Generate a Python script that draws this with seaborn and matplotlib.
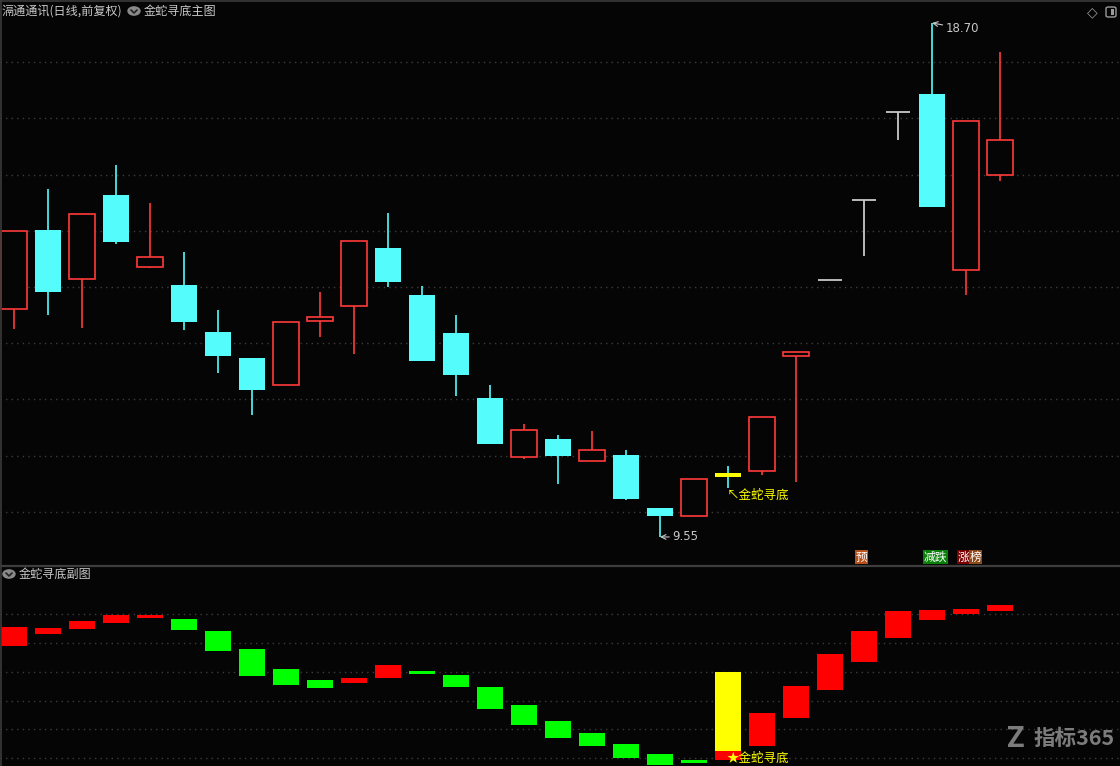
import matplotlib
matplotlib.use("Agg")
import matplotlib.pyplot as plt
import seaborn as sns
import numpy as np
from matplotlib.patches import Circle, FancyBboxPatch

# ---------------- data ----------------
opens  = [13.60, 15.01, 14.15, 15.63, 14.36, 14.03, 13.19, 12.73, 12.25, 13.40,
          13.67, 14.69, 13.85, 13.18, 12.03, 10.97, 11.30, 10.90, 11.01, 10.06,
          9.93, 10.68, 10.73, 12.78, 14.13, 15.55, 17.11, 17.44, 14.31, 16.00]
closes = [14.99, 13.91, 15.30, 14.80, 14.54, 13.38, 12.77, 12.17, 13.37, 13.47,
          14.82, 14.09, 12.68, 12.44, 11.20, 11.46, 11.00, 11.10, 10.23, 9.93,
          10.58, 10.61, 11.69, 12.85, 14.13, 15.55, 17.11, 15.42, 16.95, 16.61]
highs  = [14.99, 15.74, 15.30, 16.17, 15.49, 14.62, 13.59, 12.73, 13.37, 13.91,
          14.82, 15.31, 14.01, 13.50, 12.26, 11.56, 11.37, 11.44, 11.10, 10.06,
          10.58, 10.82, 11.69, 12.85, 14.13, 15.55, 17.11, 18.70, 16.95, 18.18]
lows   = [13.25, 13.50, 13.27, 14.77, 14.34, 13.23, 12.47, 11.72, 12.25, 13.11,
          12.81, 14.00, 12.68, 12.06, 11.20, 10.93, 10.50, 10.90, 10.20, 9.55,
          9.93, 10.43, 10.65, 10.52, 14.13, 14.56, 16.62, 15.42, 13.86, 15.88]
signal_idx = 21
price_ticks = [10, 11, 12, 13, 14, 15, 16, 17, 18]

# sub chart: floating bars (low / high of each bar) and colour code
sub_low  = [3.90, 4.32, 4.49, 4.70, 4.87, 4.45, 3.73, 2.86, 2.54, 2.44,
            2.61, 2.79, 2.93, 2.48, 1.71, 1.16, 0.70, 0.43, 0.01, -0.23,
            -0.16, -0.06, 0.43, 1.40, 2.37, 3.34, 4.18, 4.80, 5.01, 5.11]
sub_high = [4.56, 4.52, 4.77, 4.98, 4.98, 4.84, 4.42, 3.80, 3.10, 2.72,
            2.79, 3.23, 3.02, 2.89, 2.48, 1.85, 1.30, 0.88, 0.50, 0.15,
            -0.06, 0.25, 1.57, 2.51, 3.62, 4.42, 5.11, 5.15, 5.18, 5.32]
sub_dir  = ["R", "R", "R", "R", "R", "G", "G", "G", "G", "G",
            "R", "R", "G", "G", "G", "G", "G", "G", "G", "G",
            "G", "R", "R", "R", "R", "R", "R", "R", "R", "R"]
sub_signal = [0.25, 3.00]
sub_ticks = [0, 1, 2, 3, 4, 5]

hi_label = "18.70"
lo_label = "9.55"
title_main = "滆通通讯(日线,前复权)"
title_ind = "金蛇寻底主图"
title_sub = "金蛇寻底副图"
signal_text = "金蛇寻底"

# ---------------- style ----------------
sns.set_theme(style="dark")
plt.rcParams["font.family"] = ["Noto Sans CJK SC", "DejaVu Sans"]
BG = "#050505"
RED = "#FF3A3A"
CYAN = "#54FCFC"
GREY = "#C8C8C8"
GRID = "#3c3c3c"
W, H = 1120, 766

fig = plt.figure(figsize=(11.2, 7.66), dpi=100, facecolor=BG)
ax = fig.add_axes([0, (H - 565) / H, 1, 565 / H])
ax2 = fig.add_axes([0, 0, 1, 199 / H])
xl = (-14 / 34, (W - 14) / 34)
for a in (ax, ax2):
    a.set_facecolor(BG)
    a.set_xlim(*xl)
    a.set_axis_off()

ax.set_ylim(9.051, 19.109)
ax2.set_ylim(-0.267, 6.64)

for p in price_ticks:
    ax.axhline(p, color=GRID, lw=1.0, ls=(0, (1, 3)), zorder=0)
for v in sub_ticks:
    ax2.axhline(v, color=GRID, lw=1.0, ls=(0, (1, 3)), zorder=0)

# ---------------- candles ----------------
bw = 0.74
for i, (o, c, h, l) in enumerate(zip(opens, closes, highs, lows)):
    if i == signal_idx:
        ax.vlines(i, l, h, color=CYAN, lw=1.2, zorder=2)
        ax.bar(i, o - c, bottom=c, width=bw, color="#FFFF00", lw=0, zorder=3)
    elif c > o:
        if h > c:
            ax.vlines(i, c, h, color=RED, lw=1.2, zorder=2)
        if l < o:
            ax.vlines(i, l, o, color=RED, lw=1.2, zorder=2)
        ax.bar(i, c - o, bottom=o, width=bw, facecolor=BG, edgecolor=RED,
               lw=1.2, zorder=3)
    elif c < o:
        ax.vlines(i, l, h, color=CYAN, lw=1.2, zorder=2)
        ax.bar(i, o - c, bottom=c, width=bw, color=CYAN, lw=0, zorder=3)
    else:
        ax.hlines(o, i - 0.36, i + 0.36, color=GREY, lw=1.3, zorder=3)
        if l < o:
            ax.vlines(i, l, h, color=GREY, lw=1.3, zorder=2)

ix_hi = int(np.argmax(highs))
ix_lo = int(np.argmin(lows))
ax.annotate(hi_label, xy=(ix_hi, highs[ix_hi]), xytext=(10, -4),
            textcoords="offset points", color=GREY, fontsize=8.5,
            family=["DejaVu Sans"], ha="left", va="center",
            arrowprops=dict(arrowstyle="->", color=GREY, lw=0.8,
                            shrinkA=0, shrinkB=0))
ax.annotate(lo_label, xy=(ix_lo, lows[ix_lo]), xytext=(9, 0),
            textcoords="offset points", color=GREY, fontsize=8.5,
            family=["DejaVu Sans"], ha="left", va="center",
            arrowprops=dict(arrowstyle="->", color=GREY, lw=0.8,
                            shrinkA=0, shrinkB=0))
ax.annotate("↖" + signal_text, xy=(signal_idx, lows[signal_idx]),
            xytext=(-1, -1), textcoords="offset points", color="#FFFF00",
            fontsize=9, ha="left", va="top",
            family=["Noto Sans CJK SC", "DejaVu Sans"])

# badges
badge_y = 9.19
ax.text(25 - 0.25, badge_y, "预", color="white", fontsize=8.5, ha="left",
        va="center", bbox=dict(boxstyle="square,pad=0.05", fc="#B8501A", ec="none"))
ax.text(27 - 0.25, badge_y, "减跌", color="white", fontsize=8.5, ha="left",
        va="center", bbox=dict(boxstyle="square,pad=0.05", fc="#0A7F0A", ec="none"))
ax.text(28 - 0.25, badge_y, "涨", color="white", fontsize=8.5, ha="left",
        va="center", bbox=dict(boxstyle="square,pad=0.05", fc="#7A0000", ec="none"))
ax.text(28 - 0.25 + 12.5 / 34, badge_y, "榜", color="white", fontsize=8.5,
        ha="left", va="center",
        bbox=dict(boxstyle="square,pad=0.05", fc="#8B4A1A", ec="none"))

# ---------------- sub chart ----------------
cmap = {"R": "#FF0000", "G": "#00FF00"}
xs = np.arange(len(sub_low))
ax2.bar(xs, np.array(sub_high) - np.array(sub_low), bottom=sub_low, width=0.78,
        color=[cmap[d] for d in sub_dir], lw=0, zorder=3)
ax2.bar(signal_idx, sub_signal[1] - sub_signal[0], bottom=sub_signal[0],
        width=0.78, color="#FFFF00", lw=0, zorder=3)
ax2.text(signal_idx - 0.05, 0.0, "★" + signal_text, color="#FFFF00", fontsize=9,
         ha="left", va="center", zorder=4,
         family=["Noto Sans CJK SC", "DejaVu Sans"])

# ---------------- frame / titles ----------------
def fx(px):
    return px / W

def fy(py):
    return 1 - py / H

fig.add_artist(plt.Line2D([0, 1], [fy(565.5), fy(565.5)], color="#3e3e3e", lw=1.6))
fig.add_artist(plt.Line2D([fx(0.8), fx(0.8)], [0, 1], color="#3a3a3a", lw=1.2))
fig.add_artist(plt.Line2D([0, 1], [fy(0.6), fy(0.6)], color="#3a3a3a", lw=1.2))

fig.text(fx(2), fy(11), title_main, color=GREY, fontsize=8.7, ha="left", va="center")
fig.text(fx(144), fy(11), title_ind, color=GREY, fontsize=8.7, ha="left", va="center")
fig.text(fx(19), fy(574), title_sub, color=GREY, fontsize=8.7, ha="left", va="center")


def chevron(cx, cy):
    fig.add_artist(Circle((fx(cx), fy(cy)), 6 / W, transform=fig.transFigure,
                          color="#8a8a8a", zorder=5))
    fig.add_artist(plt.Line2D([fx(cx - 3), fx(cx), fx(cx + 3)],
                              [fy(cy - 1), fy(cy + 2), fy(cy - 1)],
                              color="#222222", lw=1.2, zorder=6))


chevron(134, 11)
chevron(9, 574)

fig.text(fx(1092), fy(12), "◇", color="#9a9a9a", fontsize=10, ha="center",
         va="center", family=["DejaVu Sans"])
fig.add_artist(FancyBboxPatch((fx(1106), fy(17)), 10 / W, 10 / H,
                              boxstyle="round,pad=0,rounding_size=0.002",
                              transform=fig.transFigure, fc="none",
                              ec="#9a9a9a", lw=1.0))
fig.add_artist(FancyBboxPatch((fx(1111), fy(15)), 3 / W, 6 / H,
                              boxstyle="square,pad=0", transform=fig.transFigure,
                              fc="#9a9a9a", ec="none"))

# watermark
fig.text(fx(1007), fy(739), "Z", color="#7c7c7c", fontsize=21, fontweight="bold",
         ha="left", va="center", family=["Roboto", "DejaVu Sans"])
fig.text(fx(1033), fy(738), "指标365", color="#7c7c7c", fontsize=15.5,
         fontweight="bold", ha="left", va="center",
         family=["Noto Sans CJK SC", "DejaVu Sans"])

fig.savefig("out.png", dpi=100, facecolor=BG)
